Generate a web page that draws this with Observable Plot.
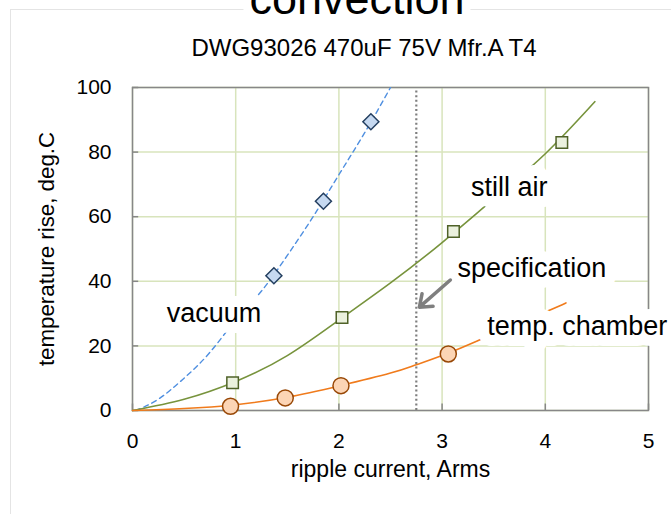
<!DOCTYPE html>
<html>
<head>
<meta charset="utf-8">
<script src="https://cdn.jsdelivr.net/npm/d3@7"></script>
<script src="https://cdn.jsdelivr.net/npm/@observablehq/plot@0.6"></script>
<style>
  html, body { margin: 0; padding: 0; background: #fff; }
  #wrap { position: relative; width: 671px; height: 514px; overflow: hidden; background: #fff;
          font-family: "Liberation Sans", Arial, sans-serif; }
  #border { position: absolute; left: 10px; top: 9px; width: 720px; height: 600px;
            border: 1px solid #e4e4e4; box-sizing: border-box; }
  #chart { position: absolute; left: 0; top: 0; }
  .title { position: absolute; white-space: nowrap; transform: translateX(-50%);
           line-height: 1; color: #000; background: #fff; padding: 0 6px; }
</style>
</head>
<body>
<div id="wrap">
  <div id="border"></div>
  <div id="chart"></div>
  <div class="title" id="t1" style="left:357px; top:-24px; font-size:45px;"></div>
  <div class="title" id="t2" style="left:364px; top:36px; font-size:24px; background:none;"></div>
</div>
<script>
// ---- data ----
const titleText = "convection";
const subtitleText = "DWG93026 470uF 75V Mfr.A T4";
const xTitle = "ripple current, Arms";
const yTitle = "temperature rise, deg.C";

const xTicks = [0, 1, 2, 3, 4, 5];
const yTicks = [0, 20, 40, 60, 80, 100];

// measured points
const vacuumX = [1.37, 1.85, 2.31];
const vacuumY = [41.7, 64.8, 89.4];
const stillAirX = [0.97, 2.03, 3.11, 4.16];
const stillAirY = [8.6, 28.8, 55.4, 83];
const chamberX = [0.95, 1.48, 2.02, 3.06];
const chamberY = [1.3, 3.9, 7.7, 17.5];

// trend curves
const vacuumCurveX = [0.03, 0.25, 0.5, 0.75, 1.0, 1.25, 1.5, 1.75, 2.0, 2.25, 2.5];
const vacuumCurveY = [0, 3.5, 10, 18, 28, 37, 48, 60, 73, 86, 100];
const stillAirCurveX = [0, 0.5, 1, 1.5, 2, 2.5, 3, 3.5, 4, 4.48];
const stillAirCurveY = [0, 3.5, 9, 17, 28, 39.5, 52, 65.5, 79.5, 95.6];
const chamberCurveX = [0, 0.5, 1, 1.5, 2, 2.5, 2.75, 3, 3.34, 3.5, 4.0, 4.2];
const chamberCurveY = [0, 0.6, 1.8, 4.1, 7.6, 11.6, 14.2, 17, 21.5, 23.8, 30.5, 33.3];

// specification limit
const specX = [2.75];
const specArrow = [{x1: 3.08, y1: 40.4, x2: 2.78, y2: 32}];

// annotation labels
const labelText = ["vacuum", "still air", "specification"];
const labelX = [0.79, 3.65, 3.87];
const labelY = [30, 69.2, 43.9];
const chamberLabel = ["temp. chamber"];
const chamberLabelX = [3.437];
const chamberLabelY = [25.9];

// ---- build ----
document.getElementById("t1").textContent = titleText;
document.getElementById("t2").textContent = subtitleText;

const pts = (xs, ys) => xs.map((x, i) => ({x, y: ys[i]}));
const labels = labelText.map((t, i) => ({t, x: labelX[i], y: labelY[i]}));
const chLabels = chamberLabel.map((t, i) => ({t, x: chamberLabelX[i], y: chamberLabelY[i]}));

const FONT = "Liberation Sans, Arial, sans-serif";
const gridColor = "#d8e4bc";
const frameColor = "#878787";

const chart = Plot.plot({
  width: 671,
  height: 514,
  marginLeft: 132,
  marginRight: 23,
  marginTop: 87,
  marginBottom: 104,
  style: {fontFamily: FONT, background: "transparent", overflow: "visible"},
  x: {domain: [0, 5]},
  y: {domain: [0, 100]},
  marks: [
    Plot.gridX(xTicks, {stroke: gridColor, strokeOpacity: 1, strokeWidth: 1.5}),
    Plot.gridY(yTicks, {stroke: gridColor, strokeOpacity: 1, strokeWidth: 1.5}),
    Plot.ruleX(specX, {y1: 0, y2: 100, stroke: "#7f7f7f", strokeWidth: 2.2, strokeDasharray: "2,2.6"}),
    Plot.frame({stroke: frameColor, strokeWidth: 1.5}),
    Plot.ruleY(yTicks, {x1: 0, x2: 0.06, stroke: frameColor, strokeWidth: 1.5}),
    Plot.ruleX(xTicks, {y1: 0, y2: 2, stroke: frameColor, strokeWidth: 1.5}),
    Plot.axisX(xTicks, {tickSize: 0, tickPadding: 23, fontSize: 21, fontFamily: FONT, fill: "#000", label: null}),
    Plot.axisY(yTicks, {tickSize: 0, tickPadding: 21, fontSize: 21, fontFamily: FONT, fill: "#000", label: null}),
    Plot.line(pts(vacuumCurveX, vacuumCurveY), {x: "x", y: "y", curve: "natural", stroke: "#4f8fe0", strokeWidth: 1.4, strokeDasharray: "5,4", clip: true}),
    Plot.line(pts(stillAirCurveX, stillAirCurveY), {x: "x", y: "y", curve: "natural", stroke: "#77933c", strokeWidth: 1.6}),
    Plot.line(pts(chamberCurveX, chamberCurveY), {x: "x", y: "y", curve: "natural", stroke: "#f07b1c", strokeWidth: 1.6}),
    Plot.text(labels, {x: "x", y: "y", text: "t", fontSize: 27, fontFamily: FONT, fill: "#000",
      stroke: "#fff", strokeWidth: 22, strokeLinejoin: "round", paintOrder: "stroke", lineAnchor: "middle"}),
    Plot.text(chLabels, {x: "x", y: "y", text: "t", fontSize: 27, fontFamily: FONT, fill: "#000", textAnchor: "start",
      stroke: "#fff", strokeWidth: 22, strokeLinejoin: "round", paintOrder: "stroke", lineAnchor: "middle"}),
    Plot.arrow(specArrow, {x1: "x1", y1: "y1", x2: "x2", y2: "y2", stroke: "#7f7f7f", strokeWidth: 3.5, headLength: 11, headAngle: 75}),
    Plot.dot(pts(vacuumX, vacuumY), {x: "x", y: "y", symbol: "diamond2", r: 7.2, fill: "#c6d9f1", stroke: "#243f60", strokeWidth: 1.5}),
    Plot.dot(pts(stillAirX, stillAirY), {x: "x", y: "y", symbol: "square", r: 6.5, fill: "#ebf1de", stroke: "#4f6228", strokeWidth: 1.5}),
    Plot.dot(pts(chamberX, chamberY), {x: "x", y: "y", symbol: "circle", r: 8, fill: "#fcd5b5", stroke: "#984807", strokeWidth: 1.5}),
    Plot.text([xTitle], {frameAnchor: "bottom", dy: 66, fontSize: 23, fontFamily: FONT, fill: "#000"}),
    Plot.text([yTitle], {frameAnchor: "left", textAnchor: "middle", lineAnchor: "middle", rotate: -90, dx: -86, fontSize: 22.3, fontFamily: FONT, fill: "#000"})
  ]
});
document.getElementById("chart").appendChild(chart);
</script>
</body>
</html>
